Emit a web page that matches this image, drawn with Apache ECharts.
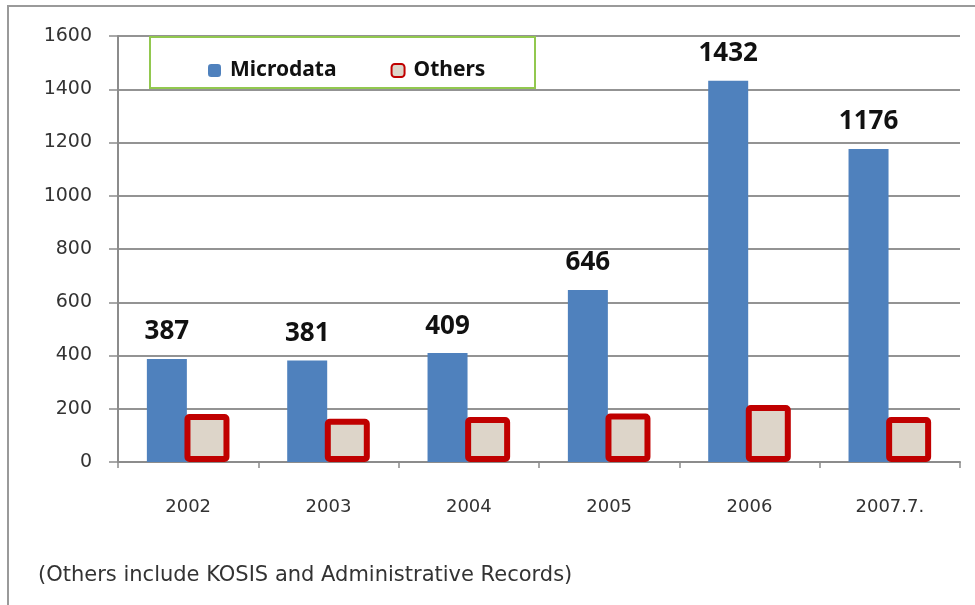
<!DOCTYPE html>
<html>
<head>
<meta charset="utf-8">
<script src="https://cdn.jsdelivr.net/npm/echarts@6/dist/echarts.min.js"></script>
<style>
  html, body { margin: 0; padding: 0; background: #ffffff; }
  #chart { width: 975px; height: 605px; }
</style>
</head>
<body>
<div id="chart"></div>
<script>
// Yearly counts of provided statistics, by source
const years = ['2002', '2003', '2004', '2005', '2006', '2007.7.'];
const microdata = [387, 381, 409, 646, 1432, 1176];
const others = [180, 162, 169, 182, 214, 169];
const yTicks = { min: 0, max: 1600, step: 200 };
const footnote = '(Others include KOSIS and Administrative Records)';

const chart = echarts.init(document.getElementById('chart'));

chart.setOption({
  backgroundColor: '#ffffff',
  animation: false,
  grid: { left: 118, right: 15, top: 36, bottom: 143, containLabel: false },
  legend: {
    left: 203,
    top: 55,
    itemWidth: 13,
    itemHeight: 13,
    itemGap: 54,
    textStyle: { fontFamily: 'Noto Sans', fontWeight: 'bold', fontSize: 21, color: '#111', padding: [0, 0, 0, 4] },
    data: ['Microdata', 'Others']
  },
  xAxis: {
    type: 'category',
    data: years,
    axisLine: { lineStyle: { color: '#8c8c8c', width: 2 } },
    axisTick: { show: true, length: 6, lineStyle: { color: '#8c8c8c', width: 1.5 } },
    axisLabel: { fontFamily: 'DejaVu Sans', fontSize: 18, color: '#333', margin: 36 }
  },
  yAxis: {
    type: 'value',
    min: yTicks.min,
    max: yTicks.max,
    interval: yTicks.step,
    axisLine: { show: true, lineStyle: { color: '#8c8c8c', width: 2 } },
    axisTick: { show: true, inside: false, length: 9, lineStyle: { color: '#8c8c8c', width: 1.5 } },
    axisLabel: { fontFamily: 'DejaVu Sans', fontSize: 19, color: '#333', margin: 26, formatter: (v) => String(v) },
    splitLine: { lineStyle: { color: '#939393', width: 2 } }
  },
  series: [
    {
      name: 'Microdata',
      type: 'bar',
      data: microdata,
      barWidth: 40,
      barGap: '-6%',
      itemStyle: { color: '#4f81bd' },
      label: {
        show: true,
        position: 'top',
        distance: 14,
        fontFamily: 'Noto Sans',
        fontWeight: 'bold',
        fontSize: 26,
        color: '#111'
      }
    },
    {
      name: 'Others',
      type: 'bar',
      data: others,
      barWidth: 45,
      itemStyle: {
        color: '#ddd5c9',
        borderColor: '#c00000',
        borderWidth: 6,
        borderRadius: 2
      }
    }
  ],
  graphic: [
    // outer frame
    { type: 'rect', shape: { x: 8, y: 6, width: 1000, height: 700 }, style: { fill: null, stroke: '#9a9a9a', lineWidth: 2 }, silent: true },
    // legend box
    { type: 'rect', shape: { x: 150, y: 37, width: 385, height: 51 }, style: { fill: '#ffffff', stroke: '#92c84f', lineWidth: 2 }, z: 1, silent: true },
    { type: 'text', left: 38, top: 565, style: { text: footnote, fontFamily: 'DejaVu Sans', fontSize: 21, fill: '#333' }, silent: true }
  ]
});
</script>
</body>
</html>
